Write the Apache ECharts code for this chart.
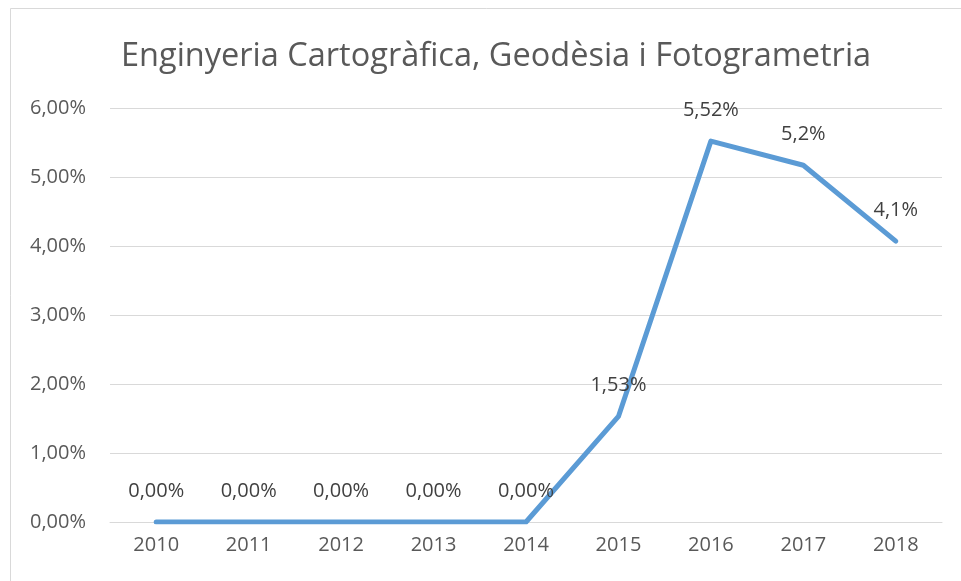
<!DOCTYPE html>
<html>
<head>
<meta charset="utf-8">
<script src="https://cdn.jsdelivr.net/npm/echarts@6/dist/echarts.min.js"></script>
<style>
  html, body { margin: 0; padding: 0; background: #fff; }
  #chart { width: 961px; height: 581px; }
</style>
</head>
<body>
<div id="chart"></div>
<script>
  // dades llegides del gràfic
  var years = ['2010', '2011', '2012', '2013', '2014', '2015', '2016', '2017', '2018']
  var values = [0, 0, 0, 0, 0, 1.53, 5.52, 5.17, 4.07]
  var pointLabels = ['0,00%', '0,00%', '0,00%', '0,00%', '0,00%', '1,53%', '5,52%', '5,2%', '4,1%']
  var titleText = 'Enginyeria Cartogràfica, Geodèsia i Fotogrametria'

  var fontName = 'Open Sans'
  var myChart = echarts.init(document.getElementById('chart'))

  var option = {
    backgroundColor: '#ffffff',
    animation: false,
    title: {
      text: titleText,
      left: 116,
      top: 35,
      textStyle: {
        color: '#595959',
        fontFamily: fontName,
        fontWeight: 'normal',
        fontSize: 32.5
      }
    },
    graphic: [{
      type: 'rect',
      shape: { x: 10.5, y: 8.5, width: 980, height: 600 },
      style: { fill: 'none', stroke: '#d9d9d9', lineWidth: 1 },
      silent: true
    }],
    grid: {
      left: 110,
      right: 19,
      top: 108,
      bottom: 59
    },
    xAxis: {
      type: 'category',
      data: years,
      boundaryGap: true,
      axisLine: { show: true, lineStyle: { color: '#d9d9d9', width: 1 } },
      axisTick: { show: false },
      axisLabel: {
        color: '#595959',
        fontFamily: fontName,
        fontSize: 20,
        margin: 13
      }
    },
    yAxis: {
      type: 'value',
      min: 0,
      max: 6,
      interval: 1,
      axisLine: { show: false },
      axisTick: { show: false },
      splitLine: { lineStyle: { color: '#d9d9d9', width: 1 } },
      axisLabel: {
        color: '#595959',
        fontFamily: fontName,
        fontSize: 20,
        margin: 24,
        formatter: function (v) {
          return v.toFixed(2).replace('.', ',') + '%'
        }
      }
    },
    series: [{
      type: 'line',
      data: values,
      symbol: 'circle',
      symbolSize: 2,
      showSymbol: true,
      showAllSymbol: true,
      itemStyle: { color: 'rgba(0,0,0,0)', borderWidth: 0 },
      lineStyle: { color: '#5b9bd5', width: 5, cap: 'round', join: 'round' },
      label: {
        show: true,
        position: 'top',
        distance: 20,
        color: '#404040',
        fontFamily: fontName,
        fontSize: 20,
        formatter: function (p) {
          return pointLabels[p.dataIndex]
        }
      }
    }]
  }

  myChart.setOption(option)
  window.addEventListener('resize', function () {
    myChart.resize()
  })
</script>
</body>
</html>
